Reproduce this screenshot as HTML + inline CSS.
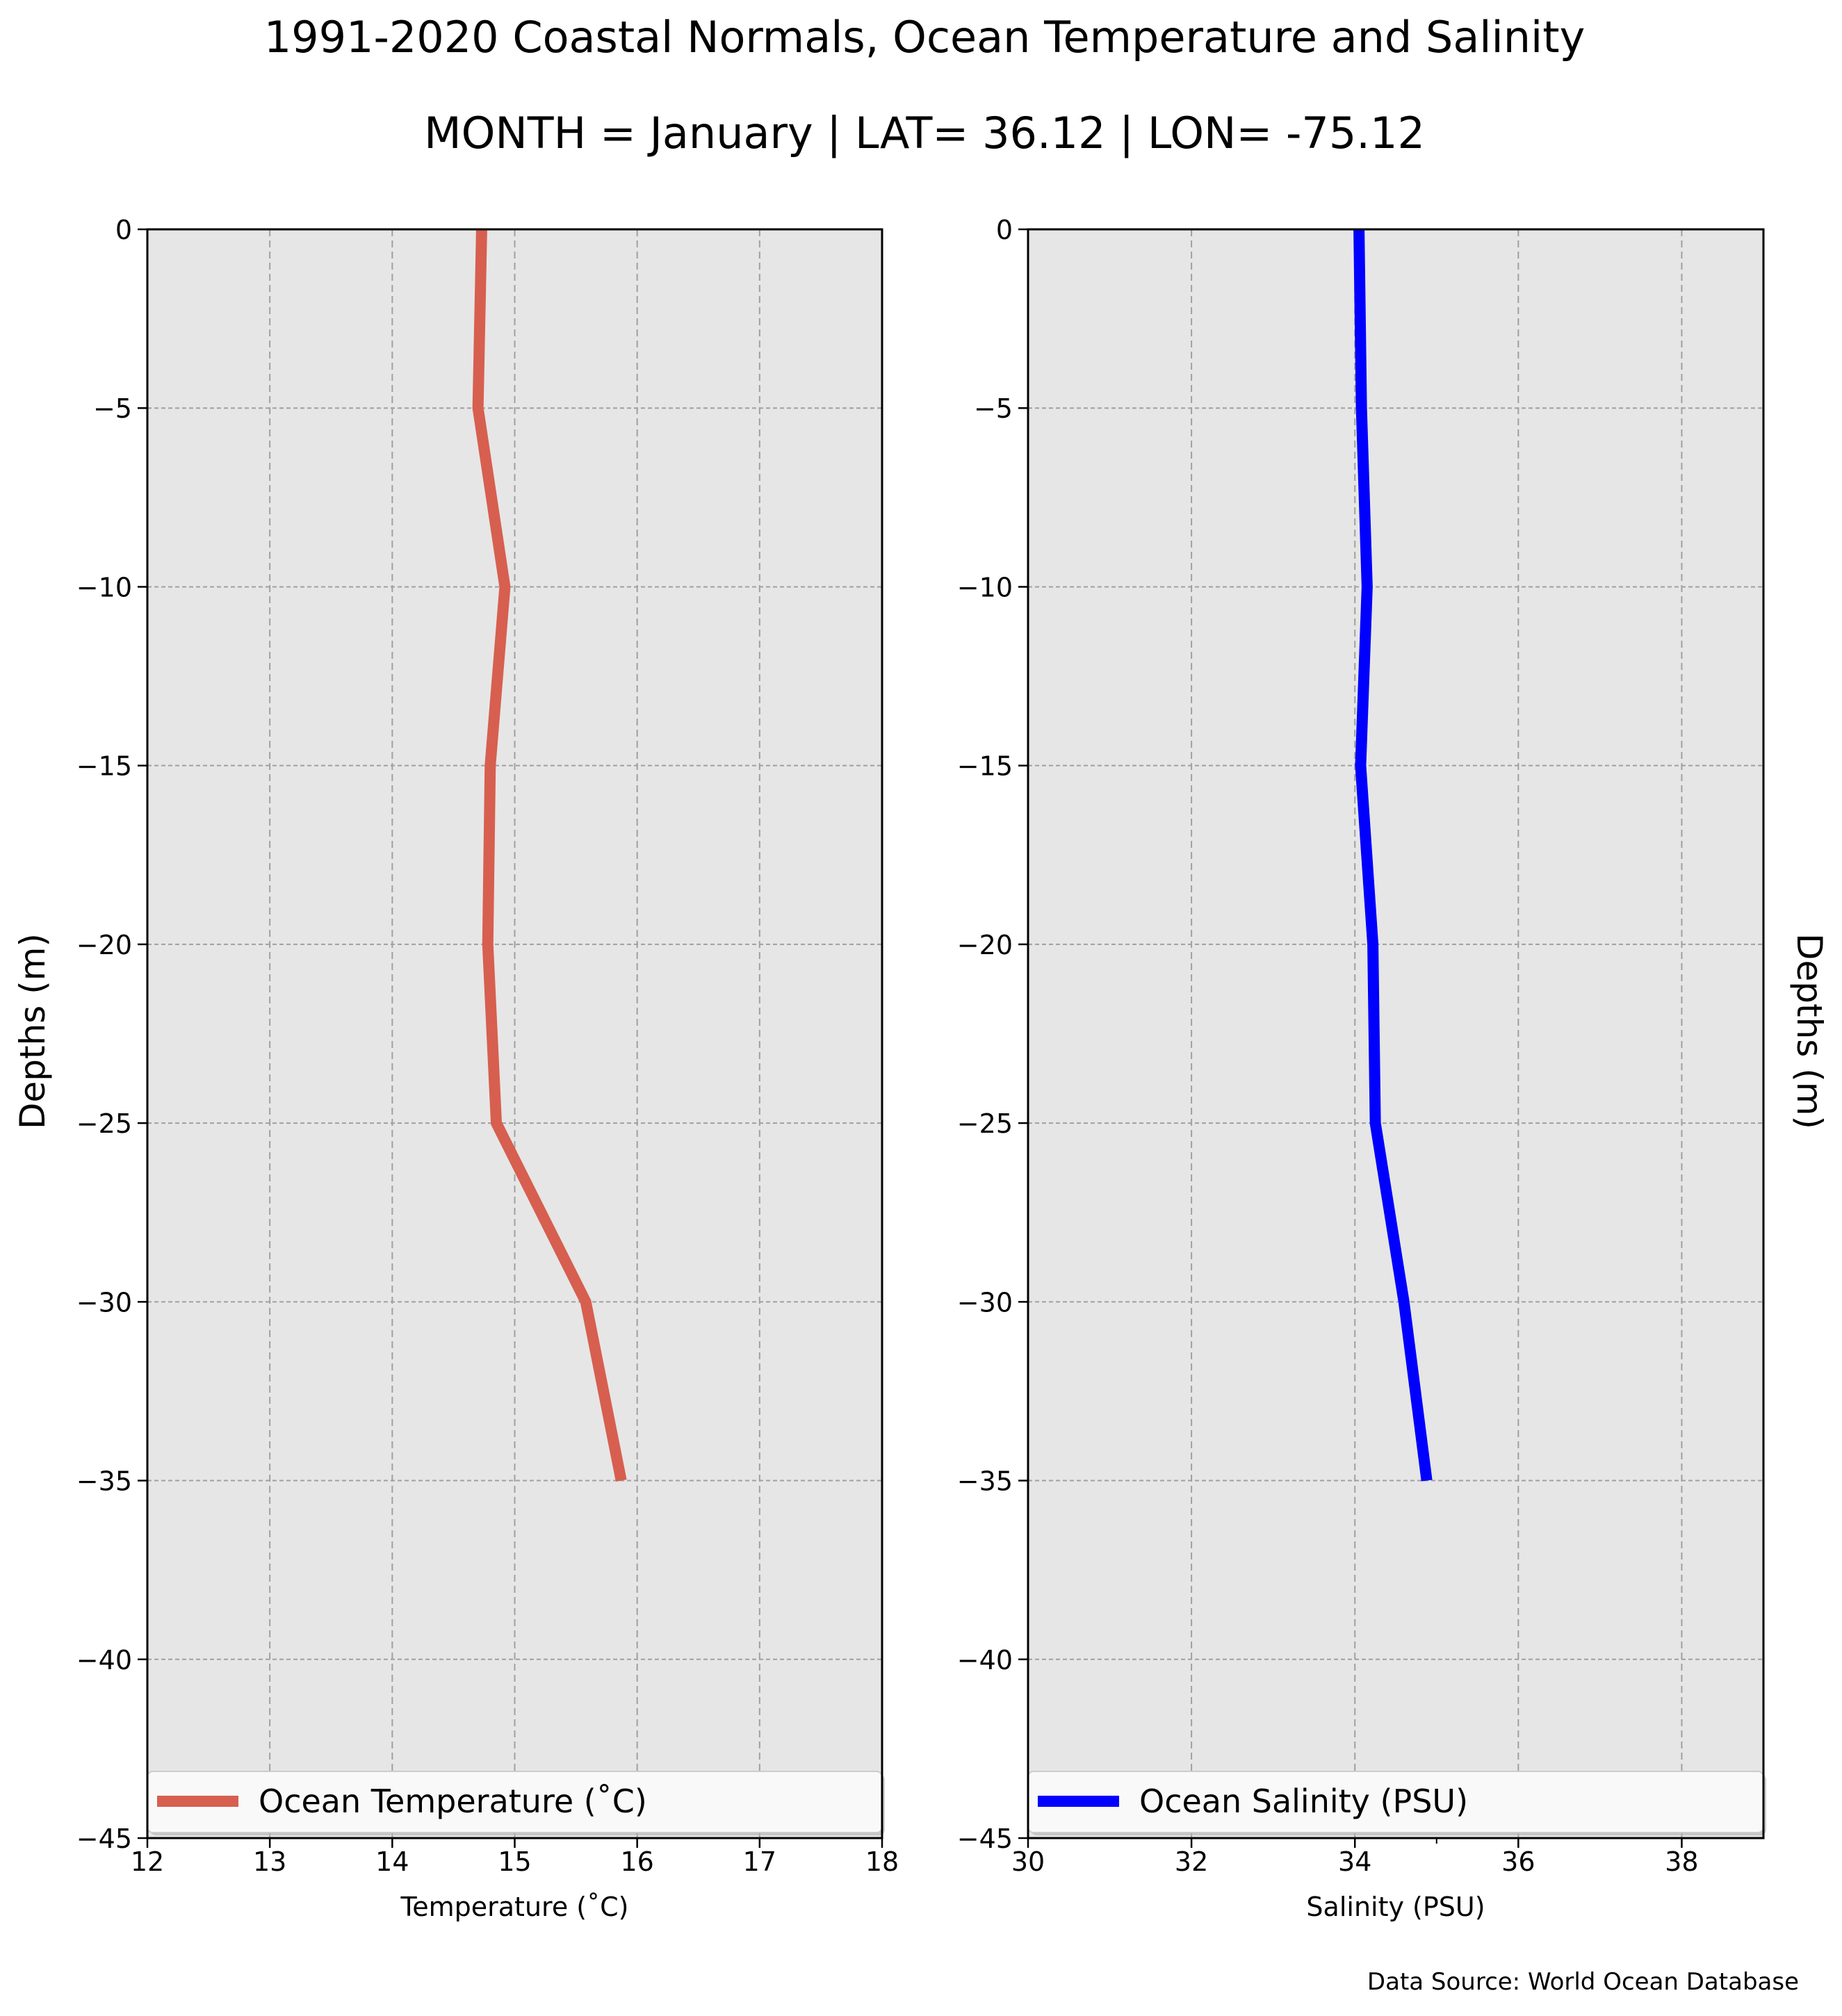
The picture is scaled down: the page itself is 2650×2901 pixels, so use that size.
<!DOCTYPE html>
<html><head><meta charset="utf-8"><style>
html,body{margin:0;padding:0;background:#fff;}
svg{display:block;font-family:"DejaVu Sans","Liberation Sans",sans-serif;}
</style></head><body>
<svg id="fig" width="2650" height="2901" viewBox="0 0 2650 2901" xmlns="http://www.w3.org/2000/svg">
<text x="1330" y="75" font-size="62" text-anchor="middle">1991-2020 Coastal Normals, Ocean Temperature and Salinity</text>
<text x="1330" y="213" font-size="62" text-anchor="middle">MONTH = January | LAT= 36.12 | LON= -75.12</text>
<g id="left"></g>
<g id="right"></g>
<text transform="translate(64,1484) rotate(-90)" font-size="50" text-anchor="middle">Depths (m)</text>
<text transform="translate(2586,1484) rotate(90)" font-size="50" text-anchor="middle">Depths (m)</text>
<text x="2588" y="2863" font-size="34" text-anchor="end">Data Source: World Ocean Database</text>
</svg>
<script>
const depths = [0, -5, -10, -15, -20, -25, -30, -35];
const temperature = [14.73, 14.70, 14.92, 14.80, 14.78, 14.85, 15.58, 15.87];
const salinity = [34.05, 34.08, 34.15, 34.07, 34.22, 34.25, 34.60, 34.88];
const yTicks = [0, -5, -10, -15, -20, -25, -30, -35, -40, -45];
const tempTicks = [12, 13, 14, 15, 16, 17, 18];
const salTicks = [30, 32, 34, 36, 38];
const salMinor = [35];

const NS = "http://www.w3.org/2000/svg";
function mk(parent, tag, attrs) {
  const e = document.createElementNS(NS, tag);
  for (const k in attrs) e.setAttribute(k, attrs[k]);
  parent.appendChild(e);
  return e;
}
const plotTop = 330, plotBottom = 2645;
const yScale = d => plotTop + (0 - d) / 45 * (plotBottom - plotTop);

function panel(g, x0, x1, xmin, xmax, ticks, minor, xs, color, xlabel, legendLabel, sideName) {
  const xScale = v => x0 + (v - xmin) / (xmax - xmin) * (x1 - x0);
  const bg = mk(g, 'rect', {x: x0, y: plotTop, width: x1 - x0, height: plotBottom - plotTop, fill: '#e6e6e6'});
  
  
  ticks.forEach(t => {
    const X = xScale(t);
    if (t !== xmin && t !== xmax) {
      const gl = mk(g, 'line', {x1: X, x2: X, y1: plotTop, y2: plotBottom, stroke: '#a0a0a0', 'stroke-width': 2, 'stroke-dasharray': '10,6'});
      
      
    }
    mk(g, 'line', {x1: X, x2: X, y1: plotBottom, y2: plotBottom + 14, stroke: '#000', 'stroke-width': 2.5});
    const tl = mk(g, 'text', {x: X, y: 2692, 'font-size': 38, 'text-anchor': 'middle'});
    tl.textContent = t;
    
    
  });
  minor.forEach(t => {
    const X = xScale(t);
    mk(g, 'line', {x1: X, x2: X, y1: plotBottom, y2: plotBottom + 8, stroke: '#000', 'stroke-width': 2});
  });
  yTicks.forEach(t => {
    const Y = yScale(t);
    if (t !== 0 && t !== -45) {
      const gl = mk(g, 'line', {x1: x0, x2: x1, y1: Y, y2: Y, stroke: '#a0a0a0', 'stroke-width': 2, 'stroke-dasharray': '6,4'});
      
      
    }
    mk(g, 'line', {x1: x0 - 14, x2: x0, y1: Y, y2: Y, stroke: '#000', 'stroke-width': 2.5});
    const tl = mk(g, 'text', {x: x0 - 22, y: Y + 14, 'font-size': 38, 'text-anchor': 'end'});
    tl.textContent = t === 0 ? '0' : '\u2212' + Math.abs(t);
    
    
  });
  const pts = depths.map((d, i) => xScale(xs[i]) + ',' + yScale(d)).join(' ');
  const line = mk(g, 'polyline', {points: pts, fill: 'none', stroke: color, 'stroke-width': 16, 'stroke-linejoin': 'miter'});
  
  
  const lg = mk(g, 'g', {});
  
  
  mk(lg, 'rect', {x: x0 + 4, y: 2553, width: x1 - x0, height: 88, rx: 8, fill: '#b0b0b0', opacity: 0.6});
  mk(lg, 'rect', {x: x0, y: 2549, width: x1 - x0, height: 88, rx: 8, fill: '#f9f9f9', stroke: '#cccccc', 'stroke-width': 2});
  mk(lg, 'line', {x1: x0 + 14, x2: x0 + 131, y1: 2592, y2: 2592, stroke: color, 'stroke-width': 16});
  const lt = mk(lg, 'text', {x: x0 + 160, y: 2608, 'font-size': 46});
  lt.textContent = legendLabel;
  
  
  mk(g, 'rect', {x: x0, y: plotTop, width: x1 - x0, height: plotBottom - plotTop, fill: 'none', stroke: '#000', 'stroke-width': 3});
  const xl = mk(g, 'text', {x: (x0 + x1) / 2, y: 2757, 'font-size': 38, 'text-anchor': 'middle'});
  xl.textContent = xlabel;
  
  
}
panel(document.getElementById('left'), 212, 1269, 12, 18, tempTicks, [], temperature, '#d75f4f', 'Temperature (\u02DAC)', 'Ocean Temperature (\u02DAC)', 'temperature');
panel(document.getElementById('right'), 1479, 2537, 30, 39, salTicks, salMinor, salinity, '#0000ff', 'Salinity (PSU)', 'Ocean Salinity (PSU)', 'salinity');
</script>
</body></html>
